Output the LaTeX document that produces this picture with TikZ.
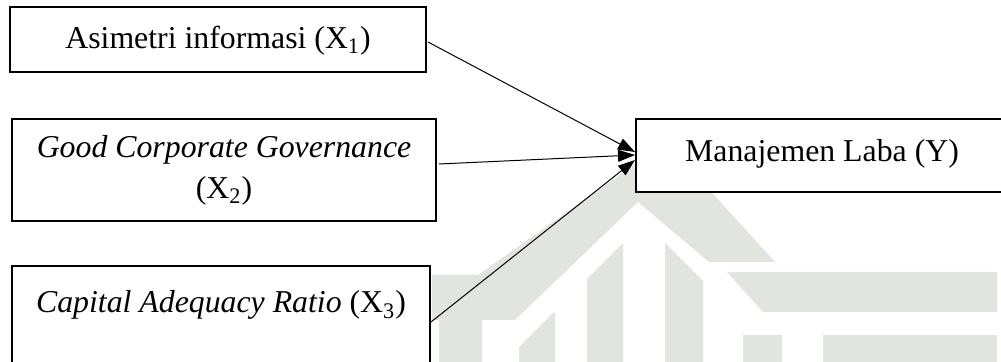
\documentclass[tikz,border=0pt]{standalone}
\usepackage{fontspec}
\setmainfont{Liberation Serif}
\usetikzlibrary{arrows.meta}
\definecolor{wm}{RGB}{226,228,224}
\begin{document}
\begin{tikzpicture}[x=0.5pt,y=-0.5pt,
  box/.style={draw, line width=1pt, fill=white, inner sep=0pt, align=center,
    font=\fontsize{15.9}{20.5}\selectfont},
  txt/.style={font=\fontsize{15.9}{20.5}\selectfont, inner sep=0pt},
  arr/.style={line width=0.5pt, -{Triangle[length=8.5pt,width=6pt]}},
  wmshape/.style={fill=wm, draw=none}]
\useasboundingbox (0,0) rectangle (1001,362);
\clip (0,0) rectangle (1001,362);
\fill[white] (0,0) rectangle (1001,362);
% faint watermark
\fill[wmshape] (432,275) -- (478,275) -- (666,142) -- (775,262) -- (709,262) -- (638,202)
  -- (515,320) -- (482,320) -- (482,362) -- (439,362) -- (439,320) -- (432,320) -- cycle;
\fill[wmshape] (519,347) -- (555,311) -- (555,362) -- (519,362) -- cycle;
\fill[wmshape] (587,279) -- (623,243) -- (623,362) -- (587,362) -- cycle;
\fill[wmshape] (665,243) -- (703,281) -- (703,362) -- (665,362) -- cycle;
\fill[wmshape] (727,272) -- (997,272) -- (997,312) -- (763,312) -- cycle;
\fill[wmshape] (743,335) rectangle (782,362);
\fill[wmshape] (823,335) rectangle (997,362);
% boxes
\node[box, minimum width=208pt, minimum height=32.5pt, text depth=2.4pt] (x1) at (218,39.5)
  {Asimetri informasi (X\textsubscript{1})};
\node[box, minimum width=212pt, minimum height=51pt] (x2) at (224,170)
  {\textit{Good Corporate Governance}\\(X\textsubscript{2})};
\node[box, minimum width=209pt, minimum height=56pt] (x3) at (221,322) {};
\node[txt, anchor=base] (t3) at (221,313)
  {\textit{Capital Adequacy Ratio} (X\textsubscript{3})};
\node[box, minimum width=186pt, minimum height=36.5pt, text depth=5.3pt] (y) at (822,155.5)
  {Manajemen Laba (Y)};
% connectors
\draw[arr] ([xshift=0.5pt,yshift=-1.25pt]x1.east) -- ([yshift=1.75pt]y.west);
\draw[arr] ([xshift=1pt,yshift=3pt]x2.east) -- ([yshift=0.25pt]y.west);
\draw[arr] (x3.east) -- ([yshift=-2.25pt]y.west);
\end{tikzpicture}
\end{document}
